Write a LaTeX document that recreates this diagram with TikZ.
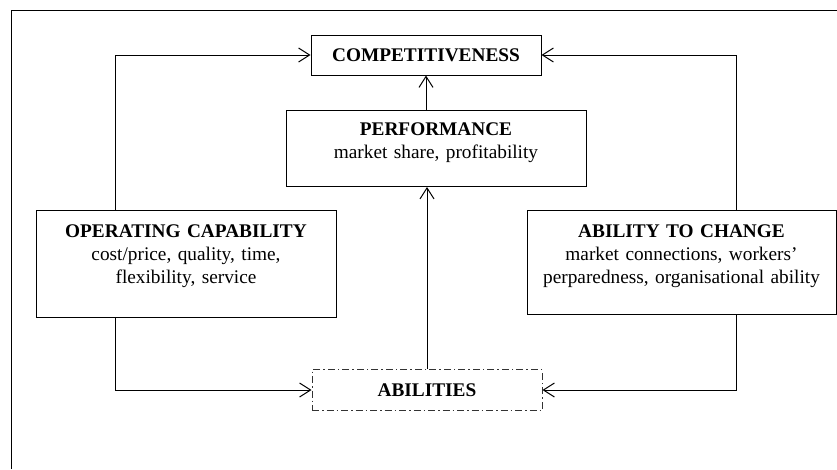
\documentclass[tikz,border=0pt]{standalone}
\usepackage{fontspec}
\setmainfont{Liberation Serif}
\usetikzlibrary{arrows.meta}
\tikzset{
box/.style={draw, line width=1pt, inner xsep=4pt, inner ysep=0pt,
	font=\fontsize{19.3}{23}\selectfont},
textbox/.style={box, anchor=north, align=center, text width=#1},
arr/.style={-{Straight Barb[length=11pt,width=14pt]}, line width=1pt}
}

\begin{document}
\begin{tikzpicture}[x=1pt, y=-1pt]
	\useasboundingbox (0,0) rectangle (837,469);
	\draw[line width=1pt] (11,469) -- (11,10) -- (837,10);
	\node[box, minimum width=230pt, minimum height=40pt] (comp) at (426,55) {\textbf{COMPETITIVENESS}};
	\node[textbox=292pt, text height=24.5pt, text depth=51.5pt] (perf) at (436,110)
		{\textbf{PERFORMANCE}\\market share, profitability};
	\node[textbox=292pt, text height=26.5pt, text depth=80.5pt] (op) at (186,210)
		{\textbf{OPERATING CAPABILITY}\\cost/price, quality, time,\\flexibility, service};
	\node[textbox=301pt, text height=26.5pt, text depth=77.5pt] (atc) at (681.5,210)
		{\textbf{ABILITY TO CHANGE}\\market connections, workers'\\perparedness, organisational ability};
	\node[box, minimum width=230pt, minimum height=41pt, draw=black!80,
		dash pattern=on 7pt off 3pt on 1.5pt off 3pt] (abil) at (427,390) {\textbf{ABILITIES}};
	\draw[arr] ([xshift=80pt]op.north west) |- (comp.west);
	\draw[arr] ([xshift=80pt]op.south west) |- (abil.west);
	\draw[arr] ([xshift=210pt]atc.north west) |- (comp.east);
	\draw[arr] ([xshift=210pt]atc.south west) |- (abil.east);
	\draw[arr] (perf.north -| comp.south) -- (comp.south);
	\draw[arr] (abil.north) -- (abil.north |- perf.south);
\end{tikzpicture}
\end{document}
